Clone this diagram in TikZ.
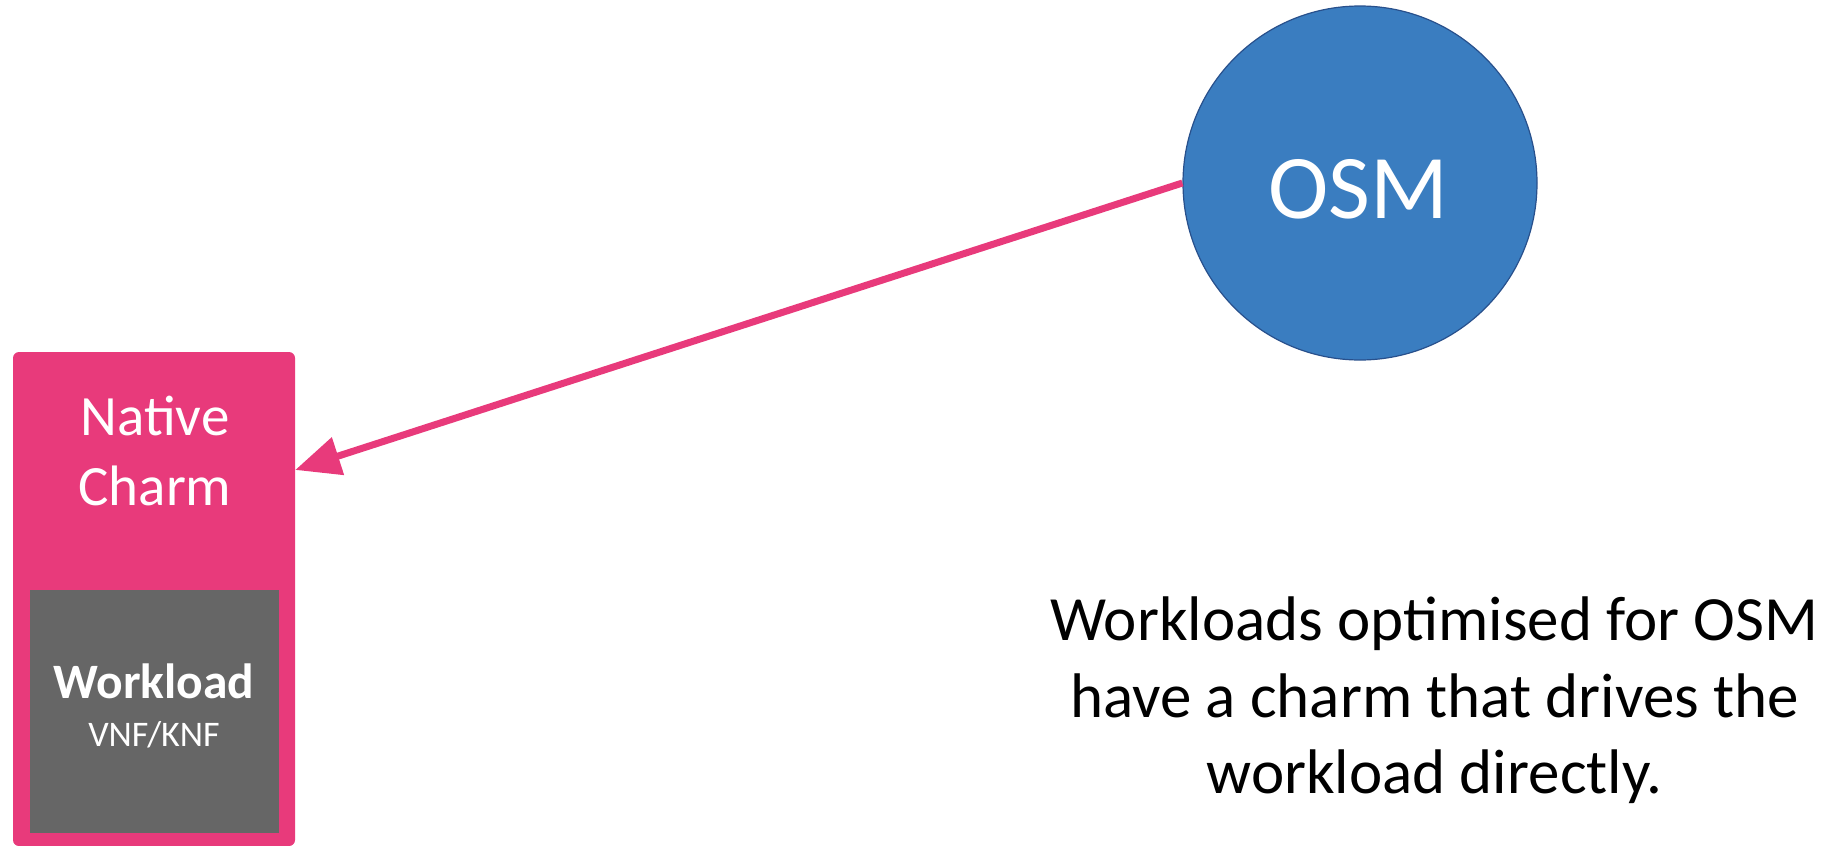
\documentclass[tikz,border=0pt]{standalone}
\usepackage{fontspec}
\setmainfont{Carlito}
\usetikzlibrary{arrows.meta,calc}

\definecolor{charmpink}{RGB}{232,58,123}
\definecolor{osmblue}{RGB}{58,125,192}
\definecolor{osmedge}{RGB}{40,80,140}
\definecolor{workgray}{RGB}{102,102,102}

\begin{document}
\begin{tikzpicture}[x=1pt,y=-1pt,
  charmbox/.style={fill=charmpink, rounded corners=6pt, inner sep=0pt},
  workbox/.style={fill=workgray, inner sep=0pt},
  osmcircle/.style={circle, fill=osmblue, draw=osmedge, line width=1.2pt, inner sep=0pt, minimum size=354pt},
  whitetext/.style={text=white, inner sep=0pt, anchor=base},
  blacktext/.style={text=black, inner sep=0pt, anchor=base},
  link/.style={draw=charmpink, line width=7pt, -{Triangle[length=45pt,width=38pt]}}
]
  \useasboundingbox (0,0) rectangle (1834,846);

  % Native charm wrapping the workload
  \node[charmbox, minimum width=282pt, minimum height=494pt] (charm) at (154,599) {};
  \node[workbox, minimum width=249pt, minimum height=243pt] (work) at (154.5,711.5) {};

  \node[whitetext, font=\fontsize{57}{70}\selectfont] (native) at (155,435) {Native};
  \node[whitetext, font=\fontsize{57}{70}\selectfont] (charmname) at (155,505) {Charm};

  \node[whitetext, font=\fontsize{49.5}{60}\selectfont\bfseries] (worklabel) at (154,698) {Workload};
  \node[whitetext, font=\fontsize{36}{44}\selectfont] (vnf) at (154,746) {VNF/KNF};

  % OSM
  \node[osmcircle] (osm) at (1360,183) {};
  \node[whitetext, font=\fontsize{91}{110}\selectfont] (osmname) at (1358,218) {OSM};

  % OSM drives the charm
  \coordinate (charmin) at ($(charm.north east)!0.239!(charm.south east)$);
  \draw[link] (osm.west) -- (charmin);

  % Caption
  \node[blacktext, font=\fontsize{63}{77}\selectfont] (cap1) at (1434.5,640) {Workloads optimised for OSM};
  \node[blacktext, font=\fontsize{63}{77}\selectfont] (cap2) at (1434.5,717) {have a charm that drives the};
  \node[blacktext, font=\fontsize{63}{77}\selectfont] (cap3) at (1434.5,793) {workload directly.};
\end{tikzpicture}
\end{document}
